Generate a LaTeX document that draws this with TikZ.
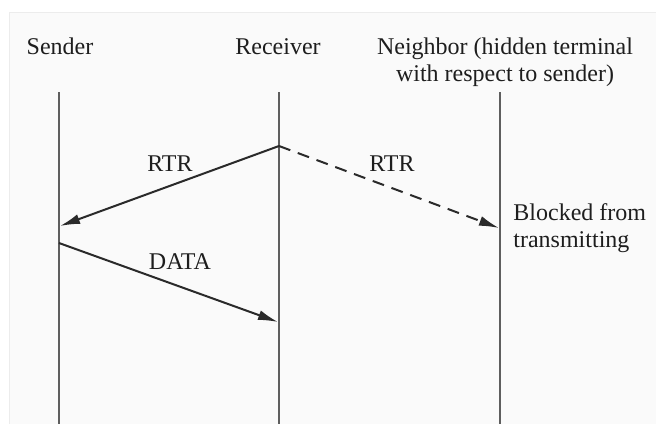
\documentclass[tikz,border=0pt]{standalone}
\usepackage{fontspec}
\setmainfont{Liberation Serif}
\usetikzlibrary{positioning,arrows.meta}
\definecolor{bgPaper}{HTML}{FAFAFA}
\definecolor{frameLine}{HTML}{ECECEC}
\definecolor{lineLife}{HTML}{5E5E5E}
\definecolor{lineMsg}{HTML}{2A2A2A}
\definecolor{textInk}{HTML}{1E1E1E}

\begin{document}
\begin{tikzpicture}[x=0.5pt,y=-0.5pt,
    every node/.style={font=\fontsize{12pt}{13.5pt}\selectfont,text=textInk,inner sep=0pt},
    lifeline/.style={draw=lineLife,line width=1.2pt},
    msg/.style={-{Latex[length=10pt,width=5pt]},draw=lineMsg,line width=1pt}]
        \useasboundingbox (0,0) rectangle (656,424);
        \fill[bgPaper] (9,12) rectangle (656,424);
        \draw[frameLine,line width=0.4pt] (9,424) |- (656,12);
        % lifeline heads
        \node[anchor=base] (sender) at (60,54) {Sender};
        \node[anchor=base] (receiver) at (278,54) {Receiver};
        \node[anchor=base,align=center] (neighbor) at (505,81)
              {Neighbor (hidden terminal\\with respect to sender)};
        % lifelines
        \coordinate (senderTop) at (59,92);
        \coordinate (senderBot) at (59,424);
        \coordinate (receiverTop) at (279,92);
        \coordinate (receiverBot) at (279,424);
        \coordinate (neighborTop) at (500,92);
        \coordinate (neighborBot) at (500,424);
        \draw[lifeline] (senderTop) -- (senderBot);
        \draw[lifeline] (receiverTop) -- (receiverBot);
        \draw[lifeline] (neighborTop) -- (neighborBot);
        % message points
        \coordinate (rtrOut) at (279,146);
        \coordinate (rtrIn) at (60,226);
        \coordinate (rtrHidden) at (499,228);
        \coordinate (dataOut) at (59,243);
        \coordinate (dataIn) at (278,322);
        \draw[msg] (rtrOut) -- (rtrIn);
        \draw[msg,dash pattern=on 6pt off 4pt] (rtrOut) -- (rtrHidden);
        \draw[msg] (dataOut) -- (dataIn);
        \node[anchor=base] (rtrLabel) at (170,171) {RTR};
        \node[anchor=base] (rtrHiddenLabel) at (392,171) {RTR};
        \node[anchor=base] (dataLabel) at (180,269) {DATA};
        \node[anchor=base west,align=left] (blocked) at (513,247)
              {Blocked from\\transmitting};
      \end{tikzpicture}
\end{document}
